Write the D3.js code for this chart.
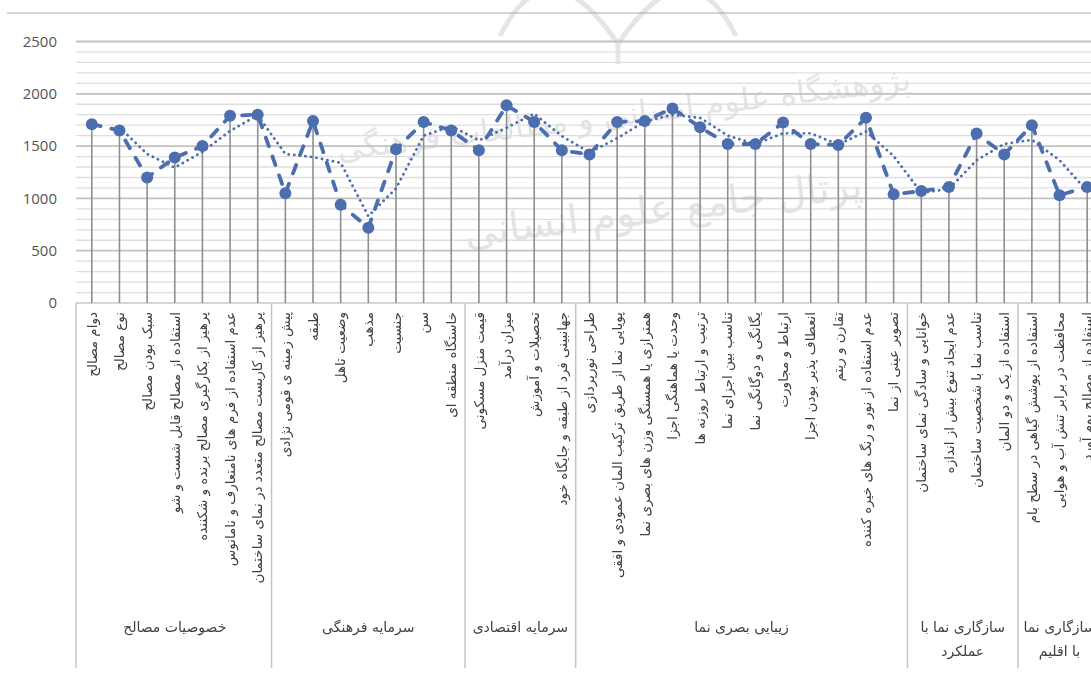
<!DOCTYPE html>
<html>
<head>
<meta charset="utf-8">
<script src="https://cdn.jsdelivr.net/npm/d3@7"></script>
<style>
  body { margin: 0; background: #fff; }
  svg { display: block; }
</style>
</head>
<body>
<div id="chart"></div>
<script>
// Chart size
const WIDTH = 1091;
const HEIGHT = 674;

// Data
const categories = [
  "دوام مصالح",
  "نوع مصالح",
  "سبک بودن مصالح",
  "استفاده از مصالح قابل شست و شو",
  "پرهیز از بکارگیری مصالح برنده و شکننده",
  "عدم استفاده از فرم های نامتعارف و نامانوس",
  "پرهیز از کاربست مصالح متعدد در نمای ساختمان",
  "پیش زمینه ی قومی نژادی",
  "طبقه",
  "وضعیت تاهل",
  "مذهب",
  "جنسیت",
  "سن",
  "خاستگاه منطقه ای",
  "قیمت منزل مسکونی",
  "میزان درآمد",
  "تحصیلات و آموزش",
  "جهانبینی فرد از طبقه و جایگاه خود",
  "طراحی نورپردازی",
  "پویایی نما از طریق ترکیب المان عمودی و افقی",
  "همترازی یا همسنگی وزن های بصری نما",
  "وحدت یا هماهنگی اجزا",
  "ترتیب و ارتباط روزنه ها",
  "تناسب بین اجزای نما",
  "یگانگی و دوگانگی نما",
  "ارتباط و مجاورت",
  "انعطاف پذیر بودن اجزا",
  "تقارن و ریتم",
  "عدم استفاده از نور و رنگ های خیره کننده",
  "تصویر عینی از نما",
  "خوانایی و سادگی نمای ساختمان",
  "عدم ایجاد تنوع بیش از اندازه",
  "تناسب نما با شخصیت ساختمان",
  "استفاده از یک و دو المان",
  "استفاده از پوشش گیاهی در سطح بام",
  "محافظت در برابر تنش آب و هوایی",
  "استفاده از مصالح بوم آورد"
];

const values = [
  1710, 1650, 1200, 1390, 1500, 1790, 1800,
  1050, 1740, 940, 720, 1470, 1730, 1650,
  1460, 1890, 1730, 1460,
  1420, 1730, 1740, 1860, 1680, 1520, 1520, 1725, 1520, 1510, 1770, 1040,
  1070, 1110, 1620, 1420,
  1700, 1030, 1110
];

const groupNames = [
  "خصوصیات مصالح",
  "سرمایه فرهنگی",
  "سرمایه اقتصادی",
  "زیبایی بصری نما",
  "سازگاری نما با عملکرد",
  "سازگاری نما با اقلیم"
];
const groupSizes = [7, 7, 4, 12, 4, 3];

const yTicks = [0, 500, 1000, 1500, 2000, 2500];

// Style
const BLUE = "#4c6eae";
const PERSIAN_FONT = "'DejaVu Sans', sans-serif";

const svg = d3.select("#chart")
  .append("svg")
  .attr("width", WIDTH)
  .attr("height", HEIGHT)
  .style("background", "#fff");

// Scales
const x = d3.scaleBand()
  .domain(d3.range(categories.length))
  .range([78, 1101])
  .padding(0);
const cx = i => x(i) + x.bandwidth() / 2;

const y = d3.scaleLinear().domain([0, 2500]).range([303, 41.5]);

// top border line of the page
svg.append("line")
  .attr("x1", 7).attr("x2", WIDTH)
  .attr("y1", 13).attr("y2", 13)
  .attr("stroke", "#d4d4d4")
  .attr("stroke-width", 2);

// faint watermark
const wm = svg.append("g").attr("opacity", 0.3);
wm.append("path")
  .attr("d", "M500,36 Q548,-60 618,44 Q688,-60 736,36 M618,44 L618,64")
  .attr("fill", "none")
  .attr("stroke", "#a8a8a8")
  .attr("stroke-width", 5);
wm.append("text")
  .attr("transform", "translate(625,125) rotate(-7)")
  .attr("text-anchor", "middle")
  .attr("font-family", PERSIAN_FONT)
  .attr("font-size", 32)
  .attr("fill", "#a0a0a0")
  .text("پژوهشگاه علوم انسانی و مطالعات فرهنگی");
wm.append("text")
  .attr("transform", "translate(665,222) rotate(-7)")
  .attr("text-anchor", "middle")
  .attr("font-family", PERSIAN_FONT)
  .attr("font-size", 40)
  .attr("fill", "#a0a0a0")
  .text("پرتال جامع علوم انسانی");

// Gridlines: minor every 100, major every 500
const grid = svg.append("g");
grid.selectAll("line.minor")
  .data(d3.range(100, 2600, 100).filter(v => v % 500 !== 0))
  .join("line")
  .attr("class", "minor")
  .attr("x1", 76).attr("x2", WIDTH)
  .attr("y1", d => y(d)).attr("y2", d => y(d))
  .attr("stroke", "#dedede")
  .attr("stroke-width", 1.3);
grid.selectAll("line.major")
  .data(yTicks.filter(v => v > 0))
  .join("line")
  .attr("class", "major")
  .attr("x1", 76).attr("x2", WIDTH)
  .attr("y1", d => y(d)).attr("y2", d => y(d))
  .attr("stroke", "#c2c2c2")
  .attr("stroke-width", 1.8);

// Y axis labels
const yAxis = d3.axisLeft(y).tickValues(yTicks).tickFormat(d3.format("d"))
  .tickSize(0).tickPadding(0);
const yg = svg.append("g")
  .attr("transform", "translate(57,0)")
  .call(yAxis);
yg.select(".domain").remove();
yg.selectAll("text")
  .attr("font-family", "'Open Sans', sans-serif")
  .attr("font-size", 15)
  .attr("fill", "#555");

// Category axis box
const axisG = svg.append("g");
axisG.append("line")
  .attr("x1", 76).attr("x2", WIDTH)
  .attr("y1", y(0)).attr("y2", y(0))
  .attr("stroke", "#c8c8c8")
  .attr("stroke-width", 1.5);

let start = 0;
const groups = groupNames.map((name, k) => {
  const g = { name, from: start, to: start + groupSizes[k] - 1 };
  start += groupSizes[k];
  return g;
});
const bounds = [x(0) - 2].concat(groups.map(g => x(g.to) + x.bandwidth()));
axisG.selectAll("line.sep")
  .data(bounds)
  .join("line")
  .attr("class", "sep")
  .attr("x1", d => d).attr("x2", d => d)
  .attr("y1", y(0)).attr("y2", 668)
  .attr("stroke", "#c4c4c4")
  .attr("stroke-width", 1.5);

// Category labels, vertical
axisG.selectAll("text.cat")
  .data(categories)
  .join("text")
  .attr("class", "cat")
  .attr("transform", (d, i) => `translate(${cx(i)},312) rotate(-90)`)
  .attr("text-anchor", "end")
  .attr("dy", "0.35em")
  .attr("font-family", PERSIAN_FONT)
  .attr("font-size", 13.5)
  .attr("fill", "#404040")
  .text(d => d);

// Group labels, wrapped to the group width
axisG.selectAll("text.grp")
  .data(groups)
  .join("text")
  .attr("class", "grp")
  .attr("text-anchor", "middle")
  .attr("font-family", PERSIAN_FONT)
  .attr("font-size", 14)
  .attr("fill", "#404040")
  .each(function (d) {
    const el = d3.select(this);
    const mid = (x(d.from) + x(d.to) + x.bandwidth()) / 2;
    const maxW = x(d.to) + x.bandwidth() - x(d.from) - 8;
    const words = d.name.split(" ");
    const lines = [];
    let cur = [];
    const probe = el.append("tspan");
    words.forEach(w => {
      probe.text(cur.concat(w).join(" "));
      if (cur.length && probe.node().getComputedTextLength() > maxW) {
        lines.push(cur.join(" "));
        cur = [w];
      } else {
        cur.push(w);
      }
    });
    lines.push(cur.join(" "));
    probe.remove();
    lines.forEach((line, j) => {
      el.append("tspan")
        .attr("x", mid)
        .attr("y", 632 + j * 24)
        .text(line);
    });
  });

// Drop lines
svg.append("g").selectAll("line")
  .data(values)
  .join("line")
  .attr("x1", (d, i) => cx(i)).attr("x2", (d, i) => cx(i))
  .attr("y1", d => y(d)).attr("y2", y(0))
  .attr("stroke", "#8f8f8f")
  .attr("stroke-width", 1.6);

// Trendline: 2-period moving average
const movingAvg = d3.pairs(values).map(([a, b], i) => ({ i: i + 1, v: (a + b) / 2 }));
svg.append("path")
  .datum(movingAvg)
  .attr("fill", "none")
  .attr("stroke", BLUE)
  .attr("stroke-width", 2.8)
  .attr("stroke-linecap", "round")
  .attr("stroke-dasharray", "0.1,5.5")
  .attr("d", d3.line().x(d => cx(d.i)).y(d => y(d.v)));

// Main series: long dash line
svg.append("path")
  .datum(values)
  .attr("fill", "none")
  .attr("stroke", BLUE)
  .attr("stroke-width", 3.8)
  .attr("stroke-linecap", "round")
  .attr("stroke-dasharray", "9,11")
  .attr("d", d3.line().x((d, i) => cx(i)).y(d => y(d)));

// Markers
svg.append("g").selectAll("circle")
  .data(values)
  .join("circle")
  .attr("cx", (d, i) => cx(i))
  .attr("cy", d => y(d))
  .attr("r", 6)
  .attr("fill", BLUE);
</script>
</body>
</html>
